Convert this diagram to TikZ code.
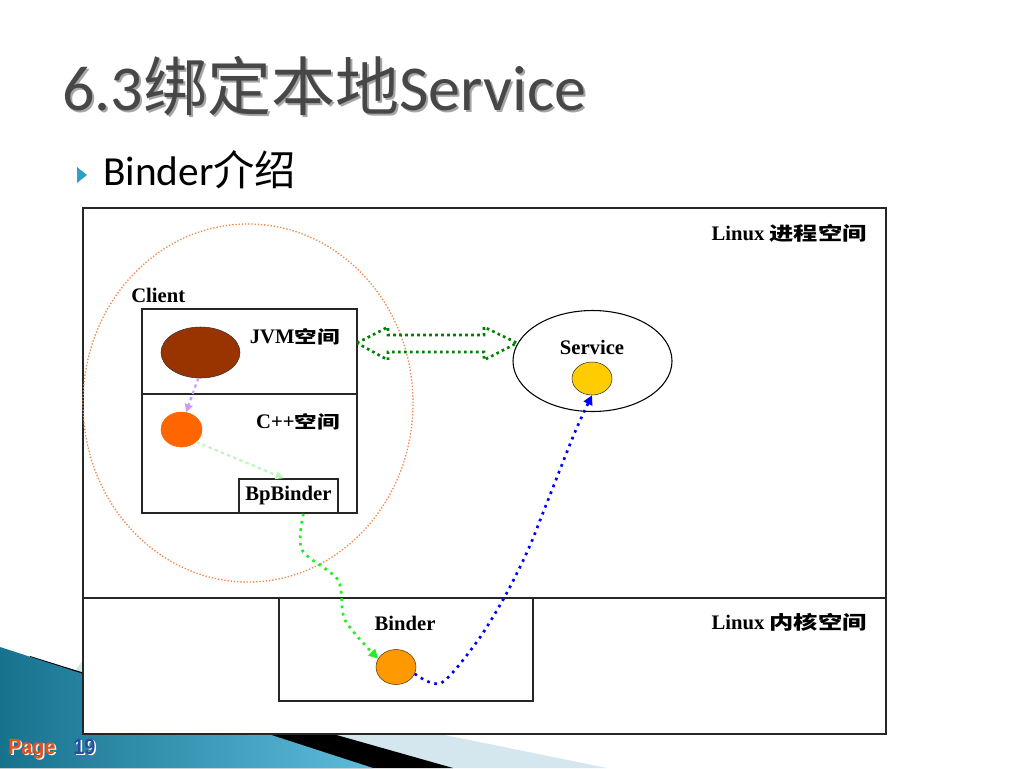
\documentclass[tikz,border=0pt]{standalone}
\usepackage{fontspec}
\setmainfont{Carlito}
\newfontfamily\cjk{Noto Sans CJK SC}
\newfontfamily\cjkw{Noto Sans CJK SC}[FakeStretch=1.3]
\newfontfamily\lblfont{Liberation Serif}
\newfontfamily\pgfont{Liberation Sans}[FakeStretch=0.9]
\usetikzlibrary{shapes,arrows.meta}
\definecolor{lblue}{HTML}{D4E6EE}
\definecolor{teala}{HTML}{16728D}
\definecolor{tealb}{HTML}{5EBCDB}
\definecolor{ttl}{HTML}{474747}
\definecolor{bul}{HTML}{2E9FC6}
\definecolor{clo}{HTML}{F2874A}
\definecolor{brn}{HTML}{993300}
\definecolor{org}{HTML}{FF6600}
\definecolor{yel}{HTML}{FFCC00}
\definecolor{orgb}{HTML}{FF9900}
\definecolor{bdark}{HTML}{663300}
\definecolor{dkgreen}{HTML}{008000}
\definecolor{grn}{HTML}{22EE22}
\definecolor{lav}{HTML}{CC99FF}
\definecolor{lgr}{HTML}{BDF5BD}
\definecolor{pgorg}{HTML}{E8501E}
\definecolor{pgblue}{HTML}{2A4D9C}
\newcommand{\zh}[1]{{\cjkw\bfseries\fontsize{13}{15}\selectfont #1}}
\newcommand{\zhw}[1]{{\cjkw\bfseries\fontsize{14}{16}\selectfont #1}}
\tikzset{box/.style={draw=black!85,line width=1.1pt},ball/.style={ellipse,draw,inner sep=0pt},lbl/.style={inner sep=0pt,font=\lblfont\bfseries\fontsize{15.5}{17}\selectfont}}
\tikzset{link/.style={line width=2pt,dash pattern=on 2pt off 3.5pt,-{Triangle[length=7pt,width=7pt]}},hint/.style={line width=1.6pt,dash pattern=on 2.5pt off 2.5pt,-{Triangle[length=6pt,width=6pt]}}}
\tikzset{pgtxt/.style={anchor=base west,inner sep=0pt,font=\pgfont\bfseries\fontsize{16.5}{18}\selectfont}}

\begin{document}
\begin{tikzpicture}[x=0.75pt,y=-0.75pt]
\useasboundingbox (0,0) rectangle (1024,768);
% swoosh at the bottom
\fill[lblue] (83,660) -- (440,734) -- (607,768) -- (0,768) -- cycle;
\fill[black] (30,656) -- (83,672.5) -- (333,734) -- (453,768) -- (0,768) -- cycle;
\shade[left color=teala,right color=tealb] (0,647) -- (373,768) -- (0,768) -- cycle;
% title
\node[anchor=base west,inner sep=0,text=black!35,font=\fontsize{48}{52}\selectfont] (t0) at (64,112) {6.3{\cjk 绑定本地}Service};
\node[anchor=base west,inner sep=0,text=ttl,font=\fontsize{48}{52}\selectfont] (t) at (62,110) {6.3{\cjk 绑定本地}Service};
\fill[bul] (77,167) -- (87,175) -- (77,183) -- cycle;
\node[anchor=base west,inner sep=0,font=\fontsize{31}{34}\selectfont] (sub) at (103,185) {Binder{\cjk 介绍}};
% spaces
\draw[box,fill=white] (83,208) rectangle (886,734);
\draw[box] (83,598) -- (886,598);
\node[lbl,anchor=east] (l1) at (867,233) {Linux \zhw{进程空间}};
\node[lbl,anchor=east] (l2) at (867,622) {Linux \zhw{内核空间}};
% client
\node[ellipse,draw=clo,line width=1pt,dash pattern=on 1pt off 1.4pt,minimum width=247.5pt,minimum height=268.5pt,inner sep=0pt] (cl) at (248,403) {};
\node[lbl,anchor=west] (cn) at (131,295) {Client};
\draw[box] (142,309) rectangle (357,513) (142,394) -- (357,394);
\node[lbl,anchor=east] (jv) at (340,337) {JVM\zh{空间}};
\node[lbl,anchor=east] (cp) at (340,422) {C++\zh{空间}};
\node[ball,fill=brn,draw=black!80,minimum width=59.25pt,minimum height=38.25pt] (e1) at (200.5,352.5) {};
\node[ball,fill=org,draw=org,minimum width=30.75pt,minimum height=26.25pt] (c1) at (181.5,429.5) {};
\node[box,lbl,minimum width=74.25pt,minimum height=25.5pt] (bp) at (288.5,496) {BpBinder};
% service
\node[ellipse,draw,line width=0.8pt,minimum width=119.25pt,minimum height=75.75pt,inner sep=0pt] (se) at (592.5,361) {};
\node[lbl] (sn) at (592,347) {Service};
\node[ball,fill=yel,draw=black!80,minimum width=30pt,minimum height=24.75pt] (s1) at (592,378.5) {};
% kernel
\draw[box] (279,598) rectangle (533,701);
\node[lbl] (bn) at (405,623) {Binder};
\node[ball,fill=orgb,draw=bdark,minimum width=30pt,minimum height=26.25pt] (b1) at (396,667) {};
% double arrow between client and service
\draw[dkgreen,line width=2pt,dash pattern=on 2pt off 2.5pt] (357,343) -- (388,327) -- (388,335) -- (484,335) -- (484,327) -- (517,343) -- (484,360) -- (484,352) -- (388,352) -- (388,360) -- cycle;
% calls
\draw[hint,lav] (e1.-95) -- (c1.75);
\draw[hint,lgr] (c1.-40) -- (bp.105);
\draw[link,grn] plot[smooth] coordinates {(bp.-50) (302,550) (338,580) (345,620) (b1.155)};
\draw[link,blue] plot[smooth] coordinates {(b1.-20) (441,683) (476,643) (504,598) (528,550) (548,500) (575,432) (s1.south)};
% page
\node[pgtxt,text=white] (pg0) at (9.5,755.5) {Page};
\node[pgtxt,text=pgorg] (pg) at (8,754) {Page};
\node[pgtxt,text=white] (pn0) at (74.5,755.5) {19};
\node[pgtxt,text=pgblue] (pn) at (73,754) {19};
\end{tikzpicture}
\end{document}
